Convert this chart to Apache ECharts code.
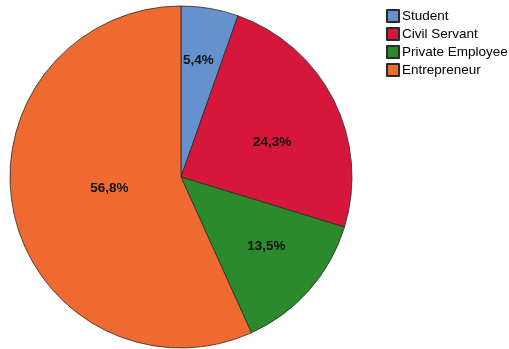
<!DOCTYPE html>
<html>
<head>
<meta charset="utf-8">
<script src="https://cdn.jsdelivr.net/npm/echarts@6/dist/echarts.min.js"></script>
<style>
html,body{margin:0;padding:0;background:#fff;}
#chart{width:509px;height:349px;}
</style>
</head>
<body>
<div id="chart"></div>
<script>
var categories = ['Student', 'Civil Servant', 'Private Employee', 'Entrepreneur'];
var counts = [2, 9, 5, 21];
var percentLabels = ['5,4%', '24,3%', '13,5%', '56,8%'];
var colors = ['#6592cc', '#d5173b', '#2b8a2b', '#ef6a31'];
var labelOffsets = [[2.5, -29.5], [12, 5], [19, 11], [15, -7]];

var chart = echarts.init(document.getElementById('chart'));
var data = categories.map(function (c, i) {
  return { name: c, value: counts[i], itemStyle: { color: colors[i] } };
});
chart.setOption({
  animation: false,
  backgroundColor: '#fff',
  legend: {
    orient: 'vertical',
    left: 381,
    top: 4,
    padding: 5,
    itemWidth: 12,
    itemHeight: 12,
    itemGap: 4,
    icon: 'rect',
    textStyle: { fontFamily: 'Liberation Sans, Arial, sans-serif', fontSize: 13.5, lineHeight: 14, color: '#000', padding: [0, 0, 0, -2] },
    data: categories
  },
  series: [{
    type: 'pie',
    center: [181, 177],
    radius: [0, 171],
    startAngle: 90,
    clockwise: true,
    avoidLabelOverlap: false,
    itemStyle: { borderColor: '#2a2a2a', borderWidth: 0.8 },
    emphasis: { disabled: true },
    label: {
      show: true,
      position: 'inside',
      fontFamily: 'Liberation Sans, Arial, sans-serif',
      fontSize: 13.5,
      fontWeight: 'bold',
      color: '#111',
      formatter: function (p) { return percentLabels[p.dataIndex]; }
    },
    labelLine: { show: false },
    labelLayout: function (p) {
      var o = labelOffsets[p.dataIndex];
      return { dx: o[0], dy: o[1] };
    },
    data: data
  }]
});
</script>
</body>
</html>
